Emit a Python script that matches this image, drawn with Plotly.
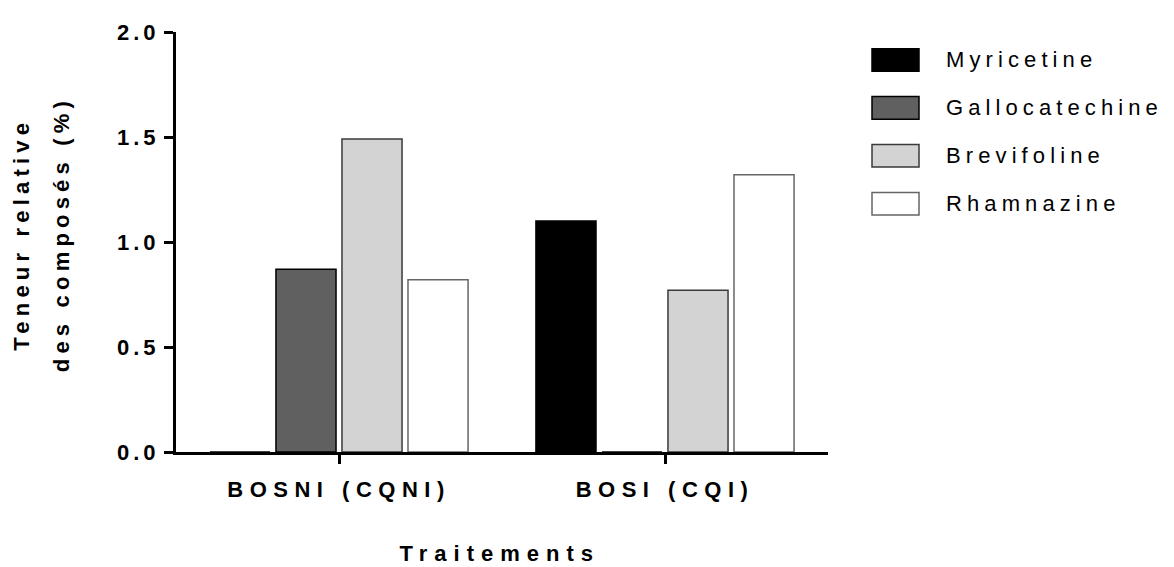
import plotly.graph_objects as go

# ---- data ----
categories = ["BOSNI (CQNI)", "BOSI (CQI)"]
series_names = ["Myricetine", "Gallocatechine", "Brevifoline", "Rhamnazine"]
myricetine = [0.0, 1.10]
gallocatechine = [0.87, 0.0]
brevifoline = [1.49, 0.77]
rhamnazine = [0.82, 1.32]
y_tick_values = [0.0, 0.5, 1.0, 1.5, 2.0]
y_tick_labels = ["0.0", "0.5", "1.0", "1.5", "2.0"]
x_title = "Traitements"
y_title_lines = ["Teneur relative", "des composés (%)"]

series_values = [myricetine, gallocatechine, brevifoline, rhamnazine]
fills = ["#000000", "#606060", "#d3d3d3", "#ffffff"]
edges = ["#000000", "#000000", "#3a3a3a", "#666666"]

# page has an 8px body margin: the figure is shrunk by it so that
# positions below are given in window pixels
OFF = 8
W, H = 1174 - OFF, 567 - OFF
PL, PR, PT, PB = 176, 828, 23, 452          # plot area in window pixels
L, T = PL - OFF, PT - OFF
PW, PH = PR - PL, PB - PT
R, B = W - L - PW, H - T - PH

def px_x(x):
    return (x - PL) / PW

def px_y(y):
    return (PB - y) / PH

FONT = "Liberation Sans, Arial, sans-serif"
FS = 22

fig = go.Figure()
for name, vals, fc, ec in zip(series_names, series_values, fills, edges):
    fig.add_trace(go.Bar(
        x=categories, y=vals, name=name,
        marker=dict(color=fc, line=dict(color=ec, width=1.5)),
        showlegend=False,
    ))

fig.update_layout(
    width=W, height=H,
    margin=dict(l=L, r=R, t=T, b=B, pad=0),
    paper_bgcolor="white", plot_bgcolor="white",
    barmode="group", bargap=0.19, bargroupgap=0.09,
    font=dict(family=FONT, color="black", size=FS),
    xaxis=dict(
        range=[-0.5, 1.5], showgrid=False, zeroline=False,
        showline=True, linecolor="black", linewidth=3,
        ticks="outside", ticklen=9, tickwidth=3, tickcolor="black",
        tickfont=dict(family=FONT, size=FS, weight="bold"),
        ticklabelstandoff=7,
    ),
    yaxis=dict(
        range=[0, 2], showgrid=False, zeroline=False,
        showline=True, linecolor="black", linewidth=3,
        ticks="outside", ticklen=9, tickwidth=3, tickcolor="black",
        tickmode="array", tickvals=y_tick_values, ticktext=y_tick_labels,
        tickfont=dict(family=FONT, size=FS, weight="bold"),
        ticklabelstandoff=0,
    ),
)

annotations = [
    dict(text=x_title, x=px_x(500), y=px_y(556), xref="paper", yref="paper",
         xanchor="center", yanchor="middle", showarrow=False,
         font=dict(family=FONT, size=FS, weight="bold")),
    dict(text=y_title_lines[0], x=px_x(22), y=px_y(230), xref="paper", yref="paper",
         xanchor="center", yanchor="middle", showarrow=False, textangle=-90,
         font=dict(family=FONT, size=FS, weight="bold")),
    dict(text=y_title_lines[1], x=px_x(62), y=px_y(230), xref="paper", yref="paper",
         xanchor="center", yanchor="middle", showarrow=False, textangle=-90,
         font=dict(family=FONT, size=FS, weight="bold")),
]
shapes = []
row0, row_step = 51.5, 49
for i, (name, fc, ec) in enumerate(zip(series_names, fills, edges)):
    cy = row0 + i * row_step
    shapes.append(dict(type="rect", xref="paper", yref="paper",
                       x0=px_x(872), x1=px_x(919), y0=px_y(cy - 11.5), y1=px_y(cy + 11.5),
                       fillcolor=fc, line=dict(color=ec, width=1.5)))
    annotations.append(dict(text=name, x=px_x(944), y=px_y(cy), xref="paper", yref="paper",
                            xanchor="left", yanchor="middle", align="left", showarrow=False,
                            font=dict(family=FONT, size=FS)))
fig.update_layout(annotations=annotations, shapes=shapes)

post = """
var gd = document.getElementById('{plot_id}');
function lsp(sel, v){ gd.querySelectorAll(sel).forEach(function(t){ t.style.letterSpacing = v; }); }
function applySpacing(){
  lsp('.xtick text', '6.5px');
  lsp('.ytick text', '4px');
  lsp('.annotation[data-index="0"] text', '7px');
  lsp('.annotation[data-index="1"] text', '5.2px');
  lsp('.annotation[data-index="2"] text', '5.2px');
  for (var k = 3; k < 7; k++) { lsp('.annotation[data-index="' + k + '"] text', '5.1px'); }
}
applySpacing();
gd.on('plotly_afterplot', applySpacing);
"""
fig.write_html("out.html", post_script=post)
